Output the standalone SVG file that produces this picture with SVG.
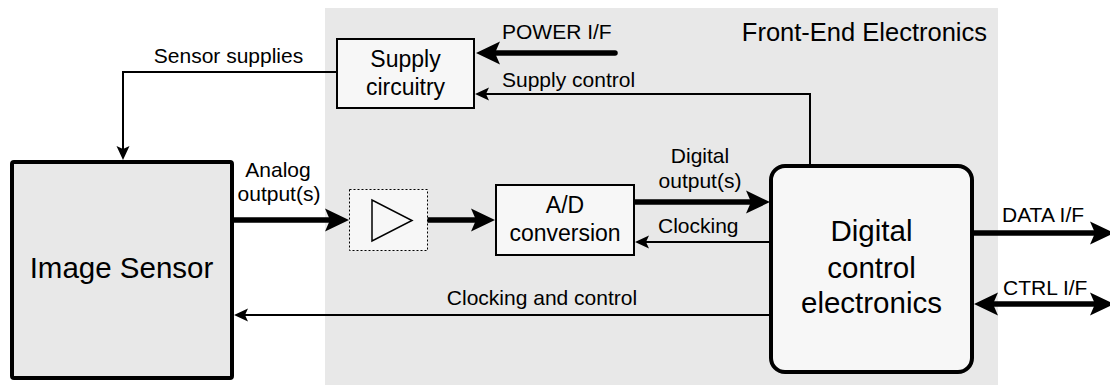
<svg xmlns="http://www.w3.org/2000/svg" width="1110" height="385" viewBox="0 0 1110 385">
  <style>
    text { font-family: "Liberation Sans", Arial, sans-serif; fill: #000; }
    .lbl { font-size: 21px; }
    .box { font-size: 23px; }
    .big { font-size: 29.5px; }
    .title { font-size: 25.5px; }
    .mid { text-anchor: middle; }
    .thin { fill: none; stroke: #000; stroke-width: 2; }
    .thick { fill: none; stroke: #000; stroke-width: 5.5; }
  </style>
  <defs>
    <!-- arrowheads with a notched back; tip sits ahead of the path end -->
    <marker id="headThick" markerUnits="userSpaceOnUse" markerWidth="30" markerHeight="30" refX="0" refY="0" orient="auto" overflow="visible">
      <path d="M-10,-11.5 L14,0 L-10,11.5 L-5,0 z" fill="#000"/>
    </marker>
    <marker id="headThickBoth" markerUnits="userSpaceOnUse" markerWidth="30" markerHeight="30" refX="0" refY="0" orient="auto-start-reverse" overflow="visible">
      <path d="M-10,-11.5 L14,0 L-10,11.5 L-5,0 z" fill="#000"/>
    </marker>
    <marker id="headThin" markerUnits="userSpaceOnUse" markerWidth="20" markerHeight="20" refX="0" refY="0" orient="auto" overflow="visible">
      <path d="M-6,-6.5 L8,0 L-6,6.5 L-3,0 z" fill="#000"/>
    </marker>
  </defs>

  <!-- front-end electronics area -->
  <g id="frontend">
    <rect x="325" y="8" width="673" height="377" fill="#e8e8e8"/>
    <text class="title" x="987" y="41" text-anchor="end">Front-End Electronics</text>
  </g>

  <!-- connectors -->
  <g id="connectors">
    <path class="thin" d="M337,72 H123 V152" marker-end="url(#headThin)"/>
    <path class="thick" d="M615,53 H490" stroke-linecap="round" marker-end="url(#headThick)"/>
    <path class="thin" d="M810,166 V94 H483" marker-end="url(#headThin)"/>
    <path class="thick" d="M232,220 H335" marker-end="url(#headThick)"/>
    <path class="thick" d="M427,220 H481" marker-end="url(#headThick)"/>
    <path class="thick" d="M634,202 H756" marker-end="url(#headThick)"/>
    <path class="thin" d="M770,242 H643" marker-end="url(#headThin)"/>
    <path class="thin" d="M770,315 H242" marker-end="url(#headThin)"/>
    <path class="thick" d="M972,233 H1100" marker-end="url(#headThick)"/>
    <path class="thick" d="M988,304 H1100" marker-start="url(#headThickBoth)" marker-end="url(#headThickBoth)"/>

    <text class="lbl mid" x="228.5" y="63">Sensor supplies</text>
    <text class="lbl" x="502" y="39">POWER I/F</text>
    <text class="lbl" x="502" y="87">Supply control</text>
    <text class="lbl mid" x="278" y="177">Analog</text>
    <text class="lbl mid" x="279" y="201">output(s)</text>
    <text class="lbl mid" x="700" y="163">Digital</text>
    <text class="lbl mid" x="700" y="188">output(s)</text>
    <text class="lbl" x="658" y="233">Clocking</text>
    <text class="lbl mid" x="542" y="305">Clocking and control</text>
    <text class="lbl" x="1002" y="222">DATA I/F</text>
    <text class="lbl" x="1003" y="295">CTRL I/F</text>
  </g>

  <g id="image-sensor">
    <rect x="12" y="162" width="220" height="216" rx="2" fill="#e8e8e8" stroke="#000" stroke-width="4"/>
    <text class="big mid" x="121.5" y="278">Image Sensor</text>
  </g>

  <g id="supply-circuitry">
    <rect x="337" y="39" width="137" height="69" fill="#f7f7f7" stroke="#000" stroke-width="2"/>
    <text class="box mid" x="405.5" y="66.5">Supply</text>
    <text class="box mid" x="405.5" y="94.5">circuitry</text>
  </g>

  <g id="amplifier">
    <rect x="349.5" y="189.5" width="78" height="61" fill="#f7f7f7" stroke="#000" stroke-width="1" stroke-dasharray="2,2"/>
    <path d="M372,200 L372,241 L412,220.5 z" fill="none" stroke="#000" stroke-width="1.5"/>
  </g>

  <g id="ad-conversion">
    <rect x="496" y="185" width="138" height="70" fill="#f7f7f7" stroke="#000" stroke-width="2"/>
    <text class="box mid" x="565" y="213">A/D</text>
    <text class="box mid" x="565" y="240.5">conversion</text>
  </g>

  <g id="digital-control">
    <rect x="771" y="166" width="201" height="206" rx="14" fill="#f7f7f7" stroke="#000" stroke-width="4"/>
    <text class="big mid" x="871.5" y="241">Digital</text>
    <text class="big mid" x="871.5" y="278">control</text>
    <text class="big mid" x="871.5" y="313">electronics</text>
  </g>
</svg>
